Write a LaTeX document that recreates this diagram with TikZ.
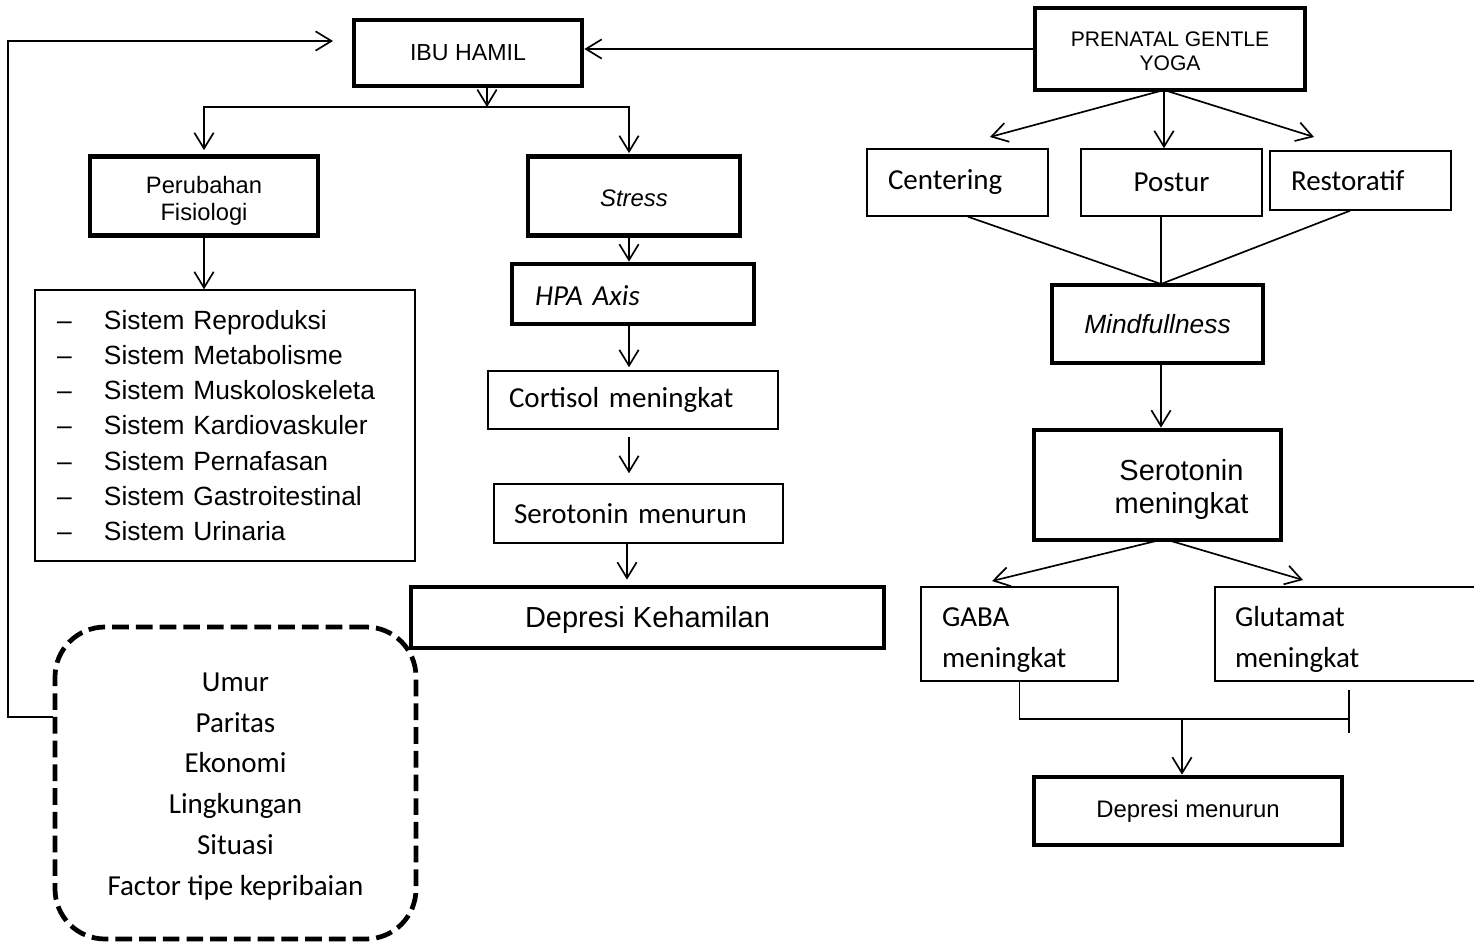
\documentclass[tikz,border=0pt]{standalone}
\usepackage{fontspec}
\setmainfont{Liberation Sans}
\newfontfamily\calfont{Carlito}
\usetikzlibrary{arrows.meta}
\tikzset{
  thickbox/.style={draw, line width=2.7pt, inner sep=0pt, align=center},
  thinbox/.style={draw, line width=0.85pt, inner sep=0pt, align=center},
  sz/.style 2 args={minimum width=#1*0.02cm, minimum height=#2*0.02cm},
  arr/.style={-{Straight Barb[length=9pt,width=11pt]}, line width=0.95pt},
  conn/.style={line width=0.95pt},
  dashbox/.style={draw, line width=2.7pt, dash pattern=on 9.5pt off 4pt, rounded corners=1cm, inner sep=0pt, align=center}
}
\begin{document}
\begin{tikzpicture}[x=0.02cm,y=-0.02cm]
\useasboundingbox (0,0) rectangle (1474,942);

% ---- left/middle column ----
\node[thickbox, sz={228}{66}, font=\fontsize{13.2pt}{15pt}\selectfont] (ibu) at (468,53) {IBU HAMIL};
\node[thickbox, sz={270}{82}, font=\fontsize{12pt}{13.6pt}\selectfont] (yoga) at (1170,49) {\rule{0pt}{10.5pt}PRENATAL GENTLE\\YOGA};
\node[thickbox, sz={228}{79}, font=\fontsize{13.5pt}{15.3pt}\selectfont] (peru) at (204,196) {\rule{0pt}{15.6pt}Perubahan\\Fisiologi};
\node[thickbox, sz={212}{79}, font=\fontsize{13.6pt}{15pt}\selectfont\itshape] (stress) at (634,196) {\rule{0pt}{12.5pt}Stress};
\node[thinbox, sz={380}{271}, text width=6.72cm, align=left, inner xsep=0.44cm, font=\fontsize{15pt}{20pt}\selectfont] (list) at (225,425.5)
 {\makebox[0.94cm][l]{–}Sistem Reproduksi\\
  \makebox[0.94cm][l]{–}Sistem Metabolisme\\
  \makebox[0.94cm][l]{–}Sistem Muskoloskeleta\\
  \makebox[0.94cm][l]{–}Sistem Kardiovaskuler\\
  \makebox[0.94cm][l]{–}Sistem Pernafasan\\
  \makebox[0.94cm][l]{–}Sistem Gastroitestinal\\
  \makebox[0.94cm][l]{–}Sistem Urinaria};
\node[thickbox, sz={242}{60}, text width=3.92cm, align=left, inner xsep=0.46cm, font=\calfont\fontsize{16.5pt}{19pt}\selectfont\itshape] (hpa) at (633,294) {\rule{0pt}{13.5pt}HPA Axis};
\node[thinbox, sz={290}{58}, text width=4.96cm, align=left, inner xsep=0.42cm, font=\calfont\fontsize{16.5pt}{19pt}\selectfont] (cort) at (633,400) {Cortisol meningkat};
\node[thinbox, sz={289}{59}, text width=4.98cm, align=left, inner xsep=0.4cm, font=\calfont\fontsize{16.5pt}{19pt}\selectfont] (serm) at (638.5,513.5) {Serotonin menurun};
\node[thickbox, sz={473}{61}, font=\fontsize{16.5pt}{19pt}\selectfont] (depk) at (647.5,617.5) {\rule{0pt}{15pt}Depresi Kehamilan};
\node[dashbox, sz={361}{312}, font=\calfont\fontsize{16.5pt}{23.3pt}\selectfont] (fact) at (235.5,783)
 {\rule{0pt}{14.5pt}Umur\\Paritas\\Ekonomi\\Lingkungan\\Situasi\\Factor tipe kepribaian};

% ---- right column ----
\node[thinbox, sz={181}{67}, text width=2.78cm, align=left, inner xsep=0.42cm, font=\calfont\fontsize{16.5pt}{19pt}\selectfont] (cent) at (957.5,182.5) {Centering};
\node[thinbox, sz={181}{67}, font=\calfont\fontsize{16.5pt}{19pt}\selectfont] (post) at (1171.5,182.5) {Postur};
\node[thinbox, sz={181}{59}, text width=2.78cm, align=left, inner xsep=0.42cm, font=\calfont\fontsize{16.5pt}{19pt}\selectfont] (rest) at (1360.5,180.5) {Restoratif};
\node[thickbox, sz={211}{78}, font=\fontsize{15pt}{18pt}\selectfont\itshape] (mind) at (1157.5,324) {Mindfullness};
\node[thickbox, sz={247}{110}, font=\fontsize{16.5pt}{18.7pt}\selectfont] (sert) at (1157.5,485) {\rule{0pt}{17pt}\hspace*{0.96cm}Serotonin\\\hspace*{0.96cm}meningkat};
\node[thinbox, sz={197}{94}, text width=3.1cm, align=left, inner xsep=0.42cm, font=\calfont\fontsize{16.5pt}{23.3pt}\selectfont] (gaba) at (1019.5,634) {\rule{0pt}{17.5pt}GABA\\meningkat};
\node[thinbox, sz={270}{94}, text width=4.6cm, align=left, inner xsep=0.4cm, font=\calfont\fontsize{16.5pt}{23.3pt}\selectfont] (glut) at (1350,634) {\rule{0pt}{17.5pt}Glutamat\\meningkat};
\node[thickbox, sz={308}{68}, font=\fontsize{13.6pt}{15pt}\selectfont] (depm) at (1188,811) {Depresi menurun};

% ---- coordinates ----
\coordinate (fbtip) at (333,41);
\coordinate (fbrow) at (0,717);
\coordinate (fbleft) at (8,0);
\coordinate (split) at (487,107);
\coordinate (colS) at (629,0);
\coordinate (colD) at (627,0);
\coordinate (yb) at (1164,90);
\coordinate (tipC) at (990,137);
\coordinate (tipR) at (1314,137);
\coordinate (meet) at (1161,284);
\coordinate (sbL) at (1156,541);
\coordinate (sbR) at (1171,541);
\coordinate (tipG) at (992,581);
\coordinate (tipU) at (1303,580);
\coordinate (brR) at (1349,719);
\coordinate (brM) at (1182,719);
\coordinate (tickT) at (1349,690);
\coordinate (tickB) at (1349,733);

% ---- connectors left ----
\draw[arr] (yoga.west) -- (ibu.east |- yoga.west);
\draw[arr] (fact.west |- fbrow) -- (fbleft |- fbrow) -- (fbleft |- fbtip) -- (fbtip);
\draw[arr] (split |- ibu.south) -- (split);
\draw[arr] (split) -| ([yshift=0.08cm]peru.north);
\draw[arr] (split) -| ([yshift=0.02cm]colS |- stress.north);
\draw[arr] (peru.south) -- (peru.south |- list.north);
\draw[arr] (colS |- stress.south) -- (colS |- hpa.north);
\draw[arr] (colS |- hpa.south) -- ([yshift=0.06cm]colS |- cort.north);
\draw[arr, shorten <=0.14cm, shorten >=0.2cm] (colS |- cort.south) -- (colS |- serm.north);
\draw[arr] (colD |- serm.south) -- ([yshift=0.1cm]colD |- depk.north);

% ---- connectors right ----
\draw[arr] (yb) -- (tipC);
\draw[arr] (yb) -- (yb |- post.north);
\draw[arr] (yb) -- (tipR);
\draw[conn] ([xshift=0.21cm]cent.south) -- (meet);
\draw[conn] (meet |- post.south) -- (meet);
\draw[conn] ([xshift=-0.21cm]rest.south) -- (meet);
\draw[arr] (meet |- mind.south) -- (meet |- sert.north);
\draw[arr] (sbL) -- (tipG);
\draw[arr] (sbR) -- (tipU);
\draw[conn] (gaba.south) -- (gaba.south |- brR) -- (brR);
\draw[conn] (tickT) -- (tickB);
\draw[arr] (brM) -- (brM |- depm.north);
\end{tikzpicture}
\end{document}
